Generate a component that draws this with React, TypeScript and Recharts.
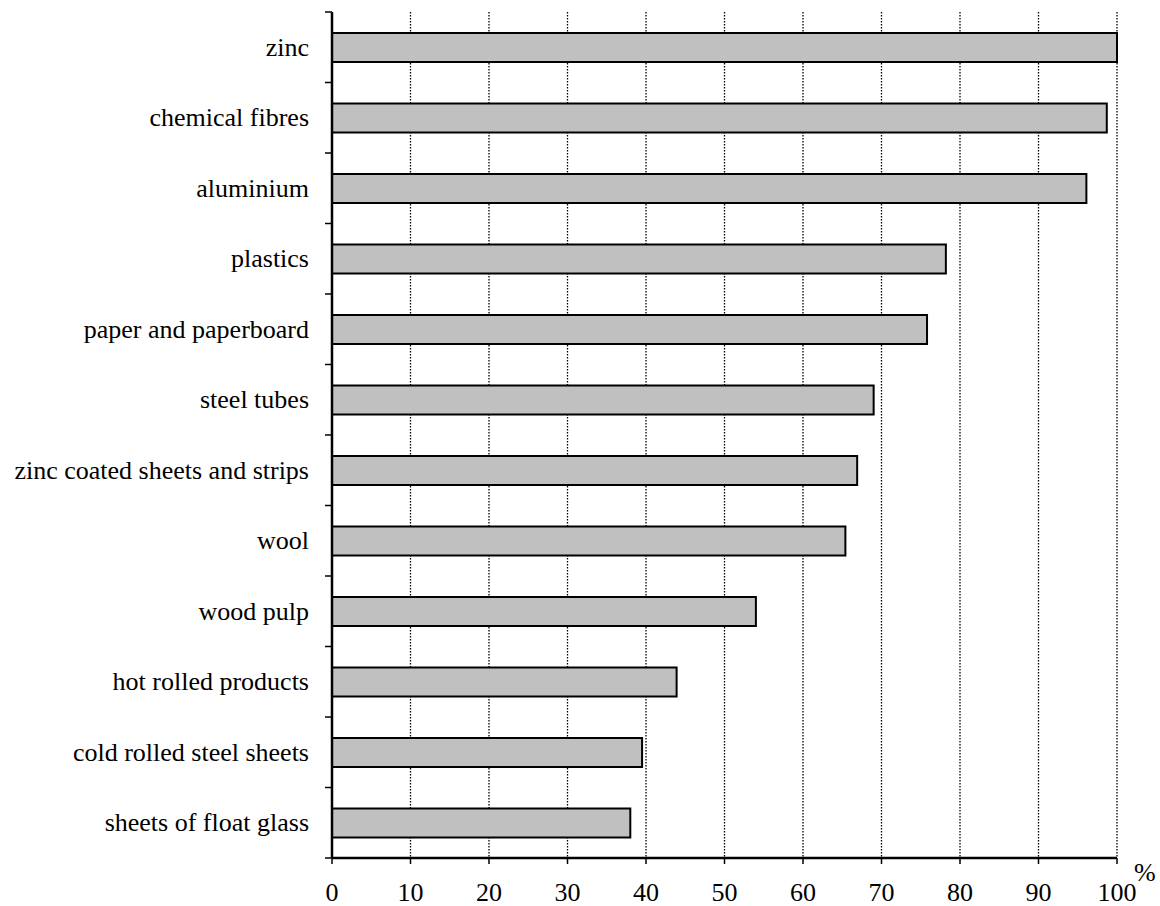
import React from "react";
import {
  BarChart,
  Bar,
  XAxis,
  YAxis,
  CartesianGrid,
} from "recharts";

const categories = [
  "zinc",
  "chemical fibres",
  "aluminium",
  "plastics",
  "paper and paperboard",
  "steel tubes",
  "zinc coated sheets and strips",
  "wool",
  "wood pulp",
  "hot rolled products",
  "cold rolled steel sheets",
  "sheets of float glass",
];

const shares = [100, 98.7, 96.1, 78.2, 75.8, 69.0, 66.9, 65.4, 54.0, 43.9, 39.5, 38.0];

const xTicks = [0, 10, 20, 30, 40, 50, 60, 70, 80, 90, 100];

const data = categories.map((name, i) => ({ name, value: shares[i] }));

const W = 1160;
const H = 906;
const M = { top: 12, right: 43, bottom: 0, left: 0 };
const X_AXIS_H = 48;
const Y_AXIS_W = 332;
const Y_TICK_SIZE = 7;
const Y_TICK_MARGIN = 16;
const FONT = "'Liberation Serif', 'Times New Roman', serif";
const FS = 26;

// height of one category band, used to put y ticks on the band edges
const band = (H - M.top - M.bottom - X_AXIS_H) / categories.length;

const CategoryTick = (props: any) => {
  const { x, y, payload, index } = props;
  const axisX = x + Y_TICK_SIZE + Y_TICK_MARGIN;
  const top = y - band / 2;
  const bottom = y + band / 2;
  return (
    <g>
      <line x1={axisX - Y_TICK_SIZE} x2={axisX} y1={top} y2={top} stroke="#000" strokeWidth={1.5} />
      {index === categories.length - 1 && (
        <line x1={axisX - Y_TICK_SIZE} x2={axisX} y1={bottom} y2={bottom} stroke="#000" strokeWidth={1.5} />
      )}
      <text
        x={x}
        y={y}
        textAnchor="end"
        dominantBaseline="central"
        fontFamily={FONT}
        fontSize={FS}
        fill="#000"
      >
        {payload.value}
      </text>
    </g>
  );
};

export default function App() {
  return (
    <div style={{ position: "absolute", left: 0, top: 0, width: W, height: H, background: "#fff" }}>
      <BarChart width={W} height={H} data={data} layout="vertical" margin={M} barSize={29}>
        <CartesianGrid
          horizontal={false}
          stroke="#000"
          strokeDasharray="1.5 1.5"
          strokeWidth={1.3}
        />
        <XAxis
          type="number"
          domain={[0, 100]}
          ticks={xTicks}
          interval={0}
          height={X_AXIS_H}
          stroke="#000"
          axisLine={{ stroke: "#000", strokeWidth: 2.5 }}
          tickLine={{ stroke: "#000", strokeWidth: 1.5 }}
          tickSize={6}
          tickMargin={19}
          tick={{ fill: "#000", fontFamily: FONT, fontSize: FS }}
        />
        <YAxis
          type="category"
          dataKey="name"
          width={Y_AXIS_W}
          interval={0}
          axisLine={{ stroke: "#000", strokeWidth: 2.5 }}
          tickLine={false}
          tickSize={Y_TICK_SIZE}
          tickMargin={Y_TICK_MARGIN}
          tick={<CategoryTick />}
        />
        <Bar
          dataKey="value"
          fill="#c0c0c0"
          stroke="#000"
          strokeWidth={2}
          isAnimationActive={false}
        />
      </BarChart>
      <span
        style={{
          position: "absolute",
          left: 1134,
          top: 860,
          fontFamily: FONT,
          fontSize: FS,
          lineHeight: 1,
          color: "#000",
        }}
      >
        %
      </span>
    </div>
  );
}
